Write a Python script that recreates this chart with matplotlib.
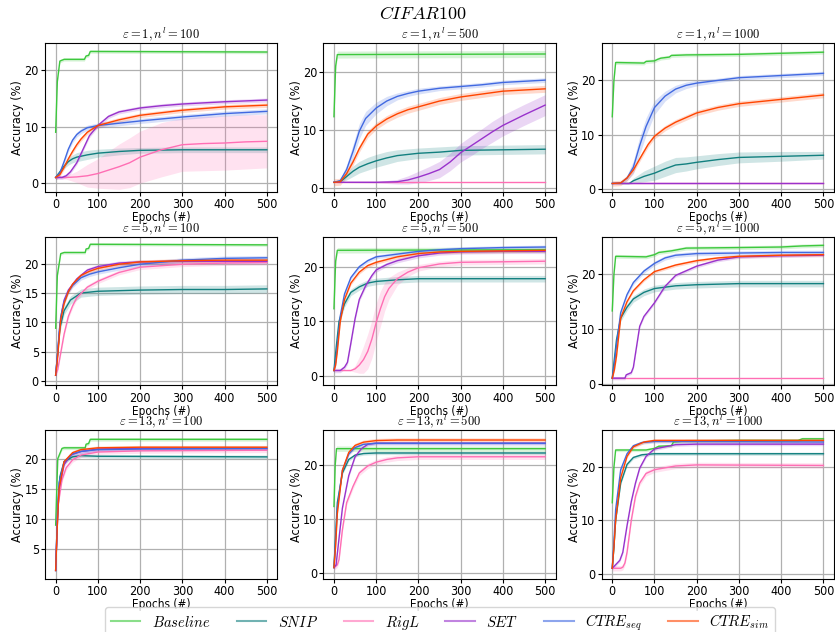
import matplotlib

matplotlib.use("Agg")
import matplotlib.pyplot as plt
import numpy as np
from matplotlib import font_manager
from matplotlib.lines import Line2D

plt.rcParams["mathtext.fontset"] = "cm"
# narrow sans for ticks/labels if the condensed face is installed
has_condensed = any(f.name == "DejaVu Sans" and f.stretch == "condensed"
                    for f in font_manager.fontManager.ttflist)
if has_condensed:
    plt.rcParams["font.stretch"] = "condensed"
TXT = 9 if has_condensed else 8.5

ORDER = ["Baseline", "SNIP", "RigL", "SET", "CTRE_seq", "CTRE_sim"]
LABELS = [r"$Baseline$", r"$SNIP$", r"$RigL$", r"$SET$", r"$CTRE_{seq}$", r"$CTRE_{sim}$"]
COLORS = ["#3dc83d", "#12807f", "#ff6eb4", "#9932cc", "#4169e1", "#ff4500"]

# each run: (epochs, mean accuracy %, std band)
E1_N100 = {
    "Baseline": ([0, 4, 10, 20, 68, 72, 78, 82, 500],
                 [9.0, 18.0, 21.6, 21.9, 21.9, 22.5, 22.6, 23.3, 23.2], 0.3),
    "SNIP": ([0, 10, 20, 30, 40, 50, 75, 100, 150, 200, 300, 400, 500],
             [1.0, 2.0, 3.0, 3.8, 4.3, 4.6, 5.0, 5.3, 5.6, 5.8, 5.9, 5.9, 5.9],
             [0, 0.2, 0.4, 0.6, 0.7, 0.8, 0.8, 0.7, 0.6, 0.5, 0.5, 0.5, 0.5]),
    "RigL": ([0, 25, 50, 75, 100, 125, 150, 175, 200, 250, 300, 350, 400, 450, 500],
             [1.0, 1.0, 1.1, 1.3, 1.7, 2.3, 2.9, 3.6, 4.6, 5.9, 6.8, 7.0, 7.1, 7.3, 7.4],
             [0, 0.3, 1.0, 2.0, 2.6, 3.3, 4.0, 4.4, 4.6, 4.8, 4.7, 4.8, 4.8, 4.8, 4.7]),
    "SET": ([0, 15, 25, 35, 50, 65, 80, 100, 125, 150, 200, 250, 300, 400, 500],
            [1.0, 1.0, 1.3, 2.0, 3.6, 6.0, 8.4, 10.2, 11.8, 12.6, 13.3, 13.7, 14.0, 14.4, 14.7], 0.35),
    "CTRE_seq": ([0, 10, 20, 30, 40, 50, 60, 75, 100, 150, 200, 300, 400, 500],
                 [1.0, 1.8, 3.8, 6.0, 7.6, 8.6, 9.2, 9.8, 10.2, 10.6, 11.0, 11.7, 12.3, 12.7], 0.45),
    "CTRE_sim": ([0, 10, 20, 30, 40, 50, 60, 75, 100, 150, 200, 300, 400, 500],
                 [1.0, 1.5, 2.8, 4.3, 5.6, 6.8, 7.8, 9.0, 10.2, 11.2, 12.0, 12.9, 13.5, 13.8], 0.4),
}

E1_N500 = {
    "Baseline": ([0, 4, 8, 500], [12.3, 21.0, 23.0, 23.1], 0.6),
    "SNIP": ([0, 15, 30, 45, 60, 80, 100, 125, 150, 200, 250, 300, 400, 500],
             [1.0, 1.1, 2.0, 2.9, 3.6, 4.2, 4.7, 5.2, 5.6, 6.0, 6.2, 6.5, 6.6, 6.7],
             [0, 0.2, 0.6, 0.9, 1.0, 1.1, 1.1, 1.1, 1.0, 0.9, 0.9, 0.8, 0.8, 0.8]),
    "RigL": ([0, 500], [1.0, 1.0], 0.0),
    "SET": ([0, 100, 150, 175, 200, 225, 250, 275, 300, 325, 350, 375, 400, 450, 500],
            [1.0, 1.0, 1.1, 1.4, 1.9, 2.5, 3.2, 4.5, 6.1, 7.3, 8.5, 9.7, 10.8, 12.6, 14.3],
            [0, 0.1, 0.4, 0.7, 1.0, 1.2, 1.4, 1.5, 1.6, 1.7, 1.7, 1.8, 1.8, 1.8, 1.8]),
    "CTRE_seq": ([0, 15, 30, 45, 60, 75, 100, 125, 150, 175, 200, 250, 300, 350, 400, 450, 500],
                 [1.0, 1.3, 3.2, 6.3, 9.8, 12.0, 13.8, 15.0, 15.8, 16.3, 16.7, 17.2, 17.5, 17.8, 18.2, 18.4, 18.6],
                 [0, 0.3, 0.8, 1.2, 1.3, 1.2, 1.0, 0.8, 0.6, 0.5, 0.5, 0.4, 0.4, 0.4, 0.4, 0.4, 0.4]),
    "CTRE_sim": ([0, 15, 30, 45, 60, 80, 100, 125, 150, 175, 200, 250, 300, 350, 400, 450, 500],
                 [1.0, 1.1, 2.5, 4.5, 6.8, 9.3, 10.7, 11.9, 12.8, 13.5, 14.0, 15.0, 15.7, 16.2, 16.7, 16.9, 17.1], 0.6),
}

E1_N1000 = {
    "Baseline": ([0, 4, 8, 75, 80, 100, 108, 115, 135, 140, 175, 300, 400, 450, 500],
                 [13.3, 20.0, 23.3, 23.2, 23.5, 23.6, 23.9, 24.1, 24.3, 24.6, 24.7, 24.8, 25.0, 25.1, 25.2], 0.35),
    "SNIP": ([0, 40, 50, 75, 100, 125, 150, 175, 200, 250, 300, 400, 500],
             [1.0, 1.0, 1.5, 2.3, 2.9, 3.7, 4.4, 4.6, 4.9, 5.4, 5.8, 6.0, 6.2],
             [0, 0.1, 0.5, 1.0, 1.3, 1.4, 1.4, 1.3, 1.2, 1.1, 1.0, 0.9, 0.7]),
    "RigL": ([0, 500], [1.0, 1.0], 0.0),
    "SET": ([0, 500], [1.0, 1.0], 0.0),
    "CTRE_seq": ([0, 20, 35, 50, 65, 80, 100, 125, 150, 175, 200, 250, 300, 400, 500],
                 [1.0, 1.1, 2.0, 4.0, 8.0, 11.5, 15.0, 17.1, 18.4, 19.1, 19.5, 20.0, 20.5, 20.9, 21.3],
                 [0, 0.1, 0.5, 1.2, 1.6, 1.6, 1.3, 0.9, 0.7, 0.6, 0.5, 0.4, 0.4, 0.4, 0.4]),
    "CTRE_sim": ([0, 20, 35, 50, 70, 85, 100, 125, 150, 200, 250, 300, 400, 500],
                 [1.0, 1.1, 2.0, 3.5, 6.2, 8.2, 9.7, 11.2, 12.3, 14.0, 15.0, 15.7, 16.5, 17.3], 0.5),
}

E5_N100 = {
    "Baseline": ([0, 4, 12, 20, 70, 72, 78, 82, 500],
                 [9.0, 18.0, 21.7, 21.9, 21.9, 22.5, 22.6, 23.3, 23.2], 0.25),
    "SNIP": ([0, 5, 10, 20, 35, 60, 100, 150, 200, 300, 400, 500],
             [1.0, 5.0, 9.0, 12.0, 13.8, 15.0, 15.3, 15.4, 15.5, 15.6, 15.6, 15.7], 0.7),
    "RigL": ([0, 5, 10, 15, 20, 30, 40, 50, 75, 100, 150, 200, 300, 400, 500],
             [1.0, 2.0, 4.0, 6.0, 8.0, 11.0, 12.8, 14.2, 16.0, 17.0, 18.5, 19.4, 19.9, 20.1, 20.2], 0.4),
    "SET": ([0, 5, 10, 15, 20, 30, 50, 75, 100, 150, 200, 300, 400, 500],
            [1.0, 5.0, 9.5, 12.0, 13.8, 15.5, 17.4, 18.9, 19.5, 20.1, 20.3, 20.4, 20.4, 20.4], 0.35),
    "CTRE_seq": ([0, 4, 8, 12, 20, 30, 40, 60, 80, 100, 150, 200, 300, 400, 500],
                 [1.0, 4.0, 8.0, 11.0, 13.5, 15.2, 16.3, 17.6, 18.2, 18.6, 19.3, 19.9, 20.6, 20.9, 21.0], 0.4),
    "CTRE_sim": ([0, 4, 8, 12, 20, 30, 40, 60, 80, 100, 150, 200, 300, 400, 500],
                 [1.0, 3.5, 7.0, 10.5, 13.2, 15.2, 16.5, 18.0, 18.7, 19.2, 19.9, 20.3, 20.5, 20.6, 20.6], 0.35),
}

E5_N500 = {
    "Baseline": ([0, 4, 8, 500], [12.3, 21.0, 23.0, 23.1], 0.5),
    "SNIP": ([0, 5, 12, 25, 40, 60, 80, 100, 150, 200, 300, 400, 500],
             [1.0, 5.0, 10.0, 13.2, 15.3, 16.3, 17.0, 17.3, 17.6, 17.8, 17.8, 17.8, 17.8], 0.6),
    "RigL": ([0, 40, 50, 60, 70, 80, 90, 100, 110, 120, 130, 150, 175, 200, 250, 300, 400, 500],
             [1.0, 1.0, 1.3, 2.0, 3.0, 4.5, 6.8, 9.8, 12.3, 14.5, 16.0, 17.8, 19.0, 19.8, 20.5, 20.8, 20.9, 21.0],
             [0, 0.1, 0.6, 1.5, 2.5, 3.2, 3.5, 3.5, 3.2, 2.6, 2.0, 1.2, 0.8, 0.6, 0.5, 0.5, 0.5, 0.5]),
    "SET": ([0, 15, 25, 32, 40, 50, 60, 75, 90, 100, 125, 150, 200, 250, 300, 400, 500],
            [1.0, 1.0, 1.6, 2.5, 6.0, 10.5, 14.0, 16.5, 18.4, 19.4, 20.4, 21.1, 22.0, 22.5, 22.7, 22.8, 22.8], 0.4),
    "CTRE_seq": ([0, 4, 8, 15, 25, 40, 60, 80, 100, 150, 200, 250, 300, 400, 500],
                 [1.0, 2.5, 5.5, 11.0, 15.0, 18.0, 20.0, 21.1, 21.8, 22.3, 22.8, 23.1, 23.3, 23.5, 23.6], 0.35),
    "CTRE_sim": ([0, 4, 8, 15, 25, 40, 60, 80, 100, 150, 200, 250, 300, 400, 500],
                 [1.0, 2.0, 4.5, 10.0, 14.0, 17.0, 19.0, 20.2, 20.8, 21.8, 22.4, 22.7, 22.8, 22.9, 23.0], 0.35),
}

E5_N1000 = {
    "Baseline": ([0, 4, 8, 80, 100, 110, 140, 175, 300, 400, 450, 500],
                 [13.3, 20.0, 23.3, 23.2, 23.6, 24.0, 24.3, 24.8, 24.9, 25.0, 25.2, 25.3], 0.35),
    "SNIP": ([0, 5, 10, 20, 35, 50, 75, 100, 150, 200, 300, 400, 500],
             [1.0, 4.5, 8.0, 12.0, 14.0, 15.5, 16.7, 17.4, 17.9, 18.1, 18.3, 18.3, 18.3], 0.6),
    "RigL": ([0, 500], [1.0, 1.0], 0.0),
    "SET": ([0, 30, 33, 45, 50, 55, 60, 65, 75, 100, 125, 150, 200, 250, 300, 400, 500],
            [1.0, 1.0, 1.6, 2.0, 3.0, 5.5, 8.0, 10.5, 12.3, 14.8, 17.8, 19.8, 21.5, 22.6, 23.2, 23.4, 23.5], 0.3),
    "CTRE_seq": ([0, 5, 10, 20, 35, 50, 75, 100, 125, 150, 200, 300, 400, 500],
                 [1.0, 3.5, 7.0, 13.0, 16.3, 18.5, 20.6, 22.0, 23.0, 23.5, 23.8, 23.9, 24.0, 24.0], 0.4),
    "CTRE_sim": ([0, 5, 10, 20, 35, 50, 75, 100, 150, 200, 250, 300, 400, 500],
                 [1.0, 2.5, 5.0, 12.0, 15.0, 17.0, 19.0, 20.5, 21.7, 22.5, 23.0, 23.3, 23.5, 23.6], 0.3),
}

E13_N100 = {
    "Baseline": ([0, 5, 15, 20, 70, 72, 78, 82, 500],
                 [9.0, 20.0, 21.7, 21.8, 21.8, 22.4, 22.5, 23.2, 23.2], 0.3),
    "SNIP": ([0, 5, 10, 20, 40, 60, 100, 500], [1.5, 12.0, 17.0, 19.5, 20.3, 20.5, 20.4, 20.3], 0.3),
    "RigL": ([0, 5, 15, 25, 40, 60, 100, 200, 500], [1.5, 12.0, 16.5, 18.5, 19.8, 20.6, 21.1, 21.3, 21.4], 0.4),
    "SET": ([0, 4, 8, 20, 35, 60, 100, 200, 500], [1.5, 9.0, 15.0, 19.0, 20.6, 21.2, 21.6, 21.7, 21.7], 0.35),
    "CTRE_seq": ([0, 4, 8, 20, 40, 60, 100, 200, 500], [1.5, 10.0, 16.0, 19.5, 20.8, 21.2, 21.5, 21.6, 21.7], 0.3),
    "CTRE_sim": ([0, 4, 8, 20, 40, 60, 100, 200, 500], [1.5, 9.0, 15.0, 19.5, 21.0, 21.5, 21.8, 21.9, 21.9], 0.3),
}

E13_N500 = {
    "Baseline": ([0, 3, 6, 500], [12.3, 20.0, 23.0, 23.0], 0.5),
    "SNIP": ([0, 4, 8, 20, 35, 50, 70, 100, 500], [1.0, 7.0, 13.0, 18.5, 21.0, 21.8, 22.1, 22.2, 22.2], 0.3),
    "RigL": ([0, 8, 12, 20, 30, 45, 60, 80, 100, 125, 150, 200, 500],
             [1.0, 1.5, 2.5, 8.0, 13.0, 16.0, 18.5, 19.8, 20.5, 21.0, 21.3, 21.5, 21.5], 0.5),
    "SET": ([0, 5, 10, 20, 35, 50, 65, 80, 100, 500], [1.0, 1.5, 5.0, 12.0, 18.0, 21.5, 23.0, 23.8, 24.0, 24.0], 0.3),
    "CTRE_seq": ([0, 4, 8, 20, 35, 50, 70, 100, 500], [1.0, 6.0, 12.0, 19.0, 22.0, 23.2, 23.8, 24.0, 24.0], 0.3),
    "CTRE_sim": ([0, 4, 8, 20, 35, 50, 70, 100, 150, 500],
                 [1.0, 5.0, 11.0, 19.0, 22.3, 23.6, 24.2, 24.5, 24.6, 24.6], 0.4),
}

E13_N1000 = {
    "Baseline": ([0, 4, 8, 80, 100, 110, 140, 145, 175, 300, 440, 450, 500],
                 [13.3, 20.0, 23.2, 23.2, 23.5, 23.9, 24.0, 24.7, 24.9, 25.0, 25.0, 25.3, 25.3], 0.3),
    "SNIP": ([0, 4, 8, 20, 35, 50, 70, 100, 500], [1.0, 5.0, 10.0, 17.0, 20.5, 21.8, 22.3, 22.5, 22.5], 0.3),
    "RigL": ([0, 20, 25, 30, 35, 45, 55, 65, 80, 100, 150, 200, 500],
             [1.0, 1.0, 1.2, 2.0, 4.0, 10.0, 14.5, 17.0, 18.8, 19.5, 20.2, 20.4, 20.3], 0.5),
    "SET": ([0, 12, 18, 25, 35, 45, 55, 65, 80, 100, 150, 200, 500],
            [1.0, 2.0, 2.5, 4.0, 9.0, 13.5, 17.0, 19.8, 22.0, 23.4, 24.2, 24.3, 24.3], 0.3),
    "CTRE_seq": ([0, 4, 8, 20, 35, 50, 70, 100, 150, 500], [1.0, 6.0, 12.0, 19.5, 22.5, 24.0, 24.6, 24.8, 24.8, 24.7], 0.3),
    "CTRE_sim": ([0, 4, 8, 20, 35, 50, 75, 100, 500], [1.0, 5.0, 10.0, 18.0, 22.0, 23.8, 24.7, 25.0, 25.0], 0.3),
}

EPS = [1, 1, 1, 5, 5, 5, 13, 13, 13]
NL = [100, 500, 1000, 100, 500, 1000, 100, 500, 1000]
RUNS = [E1_N100, E1_N500, E1_N1000, E5_N100, E5_N500, E5_N1000, E13_N100, E13_N500, E13_N1000]
YLIMS = [(-1.5, 24.8), (-0.6, 25.0), (-0.5, 26.9),
         (-0.7, 24.6), (-1.7, 25.5), (-0.3, 26.9),
         (0.1, 24.7), (-1.1, 26.4), (-1.0, 26.9)]
YTICKS = [[0, 10, 20], [0, 10, 20], [0, 10, 20],
          [0, 5, 10, 15, 20], [0, 10, 20], [0, 10, 20],
          [5, 10, 15, 20], [0, 10, 20], [0, 10, 20]]

fig, axes = plt.subplots(3, 3, figsize=(8.35, 6.32), dpi=100)
fig.subplots_adjust(left=0.054, right=0.9988, top=0.932, bottom=0.084,
                    wspace=0.198, hspace=0.303)

for i, ax in enumerate(axes.flat):
    runs = RUNS[i]
    for name, color in zip(ORDER, COLORS):
        ep, acc, sd = runs[name]
        ep = np.asarray(ep, float)
        acc = np.asarray(acc, float)
        sd = np.broadcast_to(np.asarray(sd, float), acc.shape)
        ax.fill_between(ep, acc - sd, acc + sd, color=color, alpha=0.2, lw=0)
        ax.plot(ep, acc, color=color, lw=1.0)
    ax.set_title(rf"$\varepsilon={EPS[i]}, n^l={NL[i]}$", fontsize=9, pad=0.5)
    ax.set_xlim(-25, 525)
    ax.set_ylim(*YLIMS[i])
    ax.set_xticks([0, 100, 200, 300, 400, 500])
    ax.set_yticks(YTICKS[i])
    ax.tick_params(labelsize=TXT, pad=1.5, length=3)
    ax.set_xlabel("Epochs (#)", fontsize=TXT - 0.5, labelpad=0)
    ax.set_ylabel("Accuracy (%)", fontsize=TXT, labelpad=0)
    ax.grid(True, color="#b0b0b0", lw=0.9)
    ax.set_axisbelow(True)

fig.suptitle(r"$CIFAR100$", fontsize=13, x=0.507, y=0.992)

handles = [Line2D([], [], color=c, lw=1.5, alpha=0.6) for c in COLORS]
fig.legend(handles, LABELS, loc="upper center", bbox_to_anchor=(0.527, 0.04),
           ncol=6, fontsize=10.5, columnspacing=1.8, frameon=True, borderaxespad=0)

fig.savefig("out.png", dpi=100)
